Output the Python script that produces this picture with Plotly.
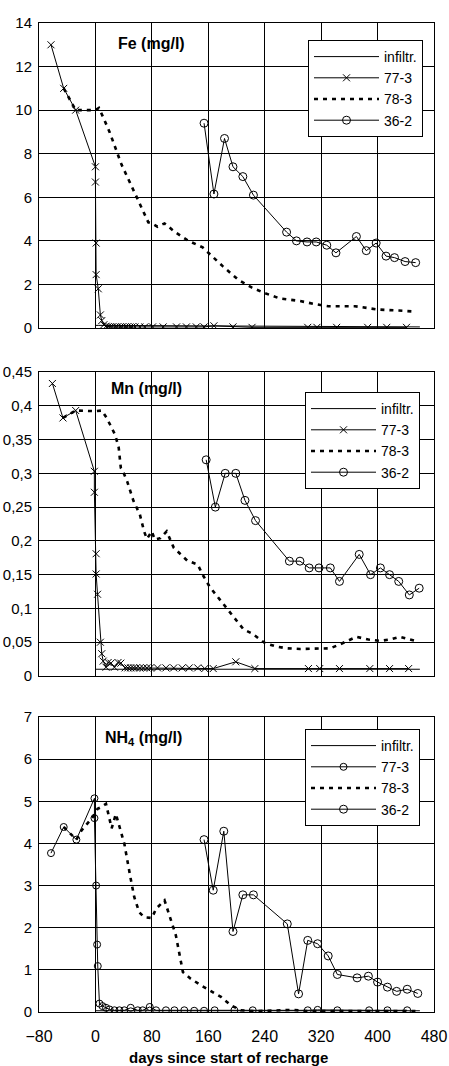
import plotly.graph_objects as go

# ---------------- data ----------------
# Fe (mg/l)
fe_infil_days = [0, 4, 460]
fe_infil = [0.12, 0.12, 0.05]
fe_773_days = [-63, -45, -28, 0, 0, 1, 1, 4, 7, 9, 12, 15, 18, 21, 24, 28, 31, 35, 38, 42,
               45, 49, 52, 56, 63, 70, 81, 96, 115, 129, 143, 154, 168, 195, 222, 301, 314, 342,
               386, 413, 441]
fe_773 = [13.0, 11.0, 10.0, 7.4, 6.7, 3.9, 2.45, 1.8, 0.6, 0.34, 0.15, 0.08, 0.06, 0.05, 0.05, 0.05,
          0.05, 0.05, 0.05, 0.05, 0.05, 0.05, 0.05, 0.05, 0.05, 0.05, 0.05, 0.05, 0.05, 0.05, 0.05,
          0.05, 0.1, 0.05, 0.03, 0.03, 0.03, 0.03, 0.03, 0.03, 0.03]
fe_783_days = [-45, -28, 0, 5, 12, 20, 28, 37, 50, 60, 70, 75, 80, 88, 98, 113, 132, 152, 180,
               203, 222, 240, 262, 288, 311, 330, 368, 400, 430, 455]
fe_783 = [11.0, 10.0, 10.0, 10.1, 9.6, 9.0, 8.3, 7.5, 6.6, 5.9, 5.2, 4.85, 4.8, 4.65, 4.8, 4.4,
          4.0, 3.7, 2.85, 2.2, 1.85, 1.6, 1.35, 1.25, 1.1, 1.0, 1.0, 0.85, 0.8, 0.75]
fe_362_days = [154, 168, 183, 195, 209, 224, 271, 285, 300, 313, 328, 341, 370, 384, 398, 412,
               424, 439, 454]
fe_362 = [9.4, 6.15, 8.7, 7.4, 6.95, 6.1, 4.4, 4.0, 3.95, 3.95, 3.8, 3.45, 4.2, 3.55, 3.9, 3.3,
          3.23, 3.05, 3.0]

# Mn (mg/l)
mn_infil_days = [0, 460]
mn_infil = [0.01, 0.01]
mn_773_days = [-61, -46, -28, -1.5, -1.5, 1, 1, 3, 7, 9, 11, 15, 18, 22, 27, 32, 36, 42, 46, 50,
               54, 58, 63, 68, 73, 78, 88, 100, 111, 123, 133, 145, 155, 167, 199, 226, 302, 318,
               346, 389, 417, 444]
mn_773 = [0.433, 0.382, 0.393, 0.303, 0.272, 0.181, 0.151, 0.121, 0.05, 0.033, 0.022, 0.013,
          0.02, 0.019, 0.013, 0.02, 0.019, 0.012, 0.012, 0.012, 0.012, 0.012, 0.012, 0.012,
          0.012, 0.012, 0.012, 0.012, 0.012, 0.012, 0.012, 0.012, 0.011, 0.011, 0.021, 0.011,
          0.011, 0.011, 0.011, 0.011, 0.011, 0.011]
mn_783_days = [-46, -28, 0, 9, 16, 28, 33, 36, 39, 45, 54, 63, 69, 73, 80, 84, 92, 101, 111, 130,
               145, 152, 162, 184, 210, 222, 240, 255, 271, 290, 309, 333, 347, 358, 370, 387,
               403, 418, 432, 446, 458]
mn_783 = [0.382, 0.393, 0.392, 0.393, 0.382, 0.357, 0.338, 0.308, 0.303, 0.288, 0.259, 0.239,
          0.214, 0.203, 0.214, 0.202, 0.204, 0.214, 0.19, 0.171, 0.165, 0.15, 0.132, 0.103,
          0.069, 0.063, 0.049, 0.044, 0.041, 0.04, 0.04, 0.041, 0.047, 0.052, 0.058, 0.054,
          0.052, 0.054, 0.058, 0.054, 0.051]
mn_362_days = [157, 170, 184, 199, 212, 227, 275, 290, 303, 317, 333, 346, 374, 390, 404, 417,
               430, 445, 459]
mn_362 = [0.32, 0.25, 0.30, 0.30, 0.26, 0.23, 0.17, 0.17, 0.16, 0.16, 0.16, 0.14, 0.18, 0.15,
          0.16, 0.15, 0.14, 0.12, 0.13]

# NH4 (mg/l)
nh_infil_days = [0, 460]
nh_infil = [0.03, 0.03]
nh_773_days = [-63, -45, -27, -1.4, -1.4, 1, 2.4, 3.3, 5.7, 10, 15, 20, 27, 34, 41, 50, 60, 67,
               77, 86, 100, 112, 126, 140, 154, 169, 197, 223, 301, 315, 343, 388, 414, 442]
nh_773 = [3.77, 4.39, 4.09, 5.07, 4.6, 3.0, 1.6, 1.09, 0.2, 0.14, 0.1, 0.06, 0.04, 0.04, 0.04,
          0.1, 0.04, 0.04, 0.12, 0.04, 0.04, 0.04, 0.04, 0.03, 0.03, 0.04, 0.04, 0.04, 0.04,
          0.05, 0.04, 0.04, 0.04, 0.04]
nh_783_days = [-45, -27, -20, -11, -4, 3, 8, 15, 23, 29, 41, 50, 55, 62, 69, 80, 86, 98, 105,
               114, 124, 135, 150, 166, 178, 192, 206, 225, 260, 280, 300, 340, 380, 420, 458]
nh_783 = [4.39, 4.09, 4.3, 4.47, 4.62, 4.82, 4.86, 4.94, 4.36, 4.7, 3.99, 3.16, 2.73, 2.37, 2.25,
          2.23, 2.45, 2.65, 2.29, 1.82, 0.95, 0.79, 0.63, 0.47, 0.36, 0.16, 0.04, 0.02, 0.04,
          0.05, 0.02, 0.02, 0.02, 0.02, 0.02]
nh_362_days = [154, 167, 182, 195, 209, 224, 272, 288, 301, 315, 330, 343, 371, 387, 400, 414,
               427, 442, 457]
nh_362 = [4.09, 2.89, 4.29, 1.91, 2.78, 2.78, 2.09, 0.43, 1.7, 1.62, 1.33, 0.89, 0.81, 0.85,
          0.71, 0.59, 0.49, 0.54, 0.44]

series_names = ["infiltr.", "77-3", "78-3", "36-2"]
panel_titles = ["<b>Fe (mg/l)</b>", "<b>Mn (mg/l)</b>", "<b>NH<sub>4</sub> (mg/l)</b>"]
x_ticks = [-80, 0, 80, 160, 240, 320, 400, 480]
x_title = "days since start of recharge"

# ---------------- layout helpers ----------------
W, H = 449, 1066
ML, MR = 39, 15
PW = W - ML - MR


def fx(p):
    return (p - ML) / PW


def fy(p):
    return 1 - p / H


FONT = "Liberation Sans, Arial, sans-serif"
panels = [
    dict(data=[(fe_infil_days, fe_infil), (fe_773_days, fe_773), (fe_783_days, fe_783),
               (fe_362_days, fe_362)],
         ymax=14, dtick=2, top=23, bot=328, sym773="x-thin-open",
         leg=dict(right=423, top=40), title=(151, 43)),
    dict(data=[(mn_infil_days, mn_infil), (mn_773_days, mn_773), (mn_783_days, mn_783),
               (mn_362_days, mn_362)],
         ymax=0.45, dtick=0.05, top=372, bot=676, sym773="x-thin-open",
         leg=dict(right=420, top=392), title=(146, 389)),
    dict(data=[(nh_infil_days, nh_infil), (nh_773_days, nh_773), (nh_783_days, nh_783),
               (nh_362_days, nh_362)],
         ymax=7, dtick=1, top=717, bot=1012, sym773="circle-open",
         leg=dict(right=420, top=729), title=(143, 738)),
]

fig = go.Figure()
annotations = []
for i, p in enumerate(panels):
    k = "" if i == 0 else str(i + 1)
    legname = "legend" + k
    styles = [
        dict(mode="lines", line=dict(color="black", width=1)),
        dict(mode="lines+markers", line=dict(color="black", width=1),
             marker=dict(symbol=p["sym773"], size=7, color="black",
                         line=dict(color="black", width=1))),
        dict(mode="lines", line=dict(color="black", width=2.6, dash="4px,5px")),
        dict(mode="lines+markers", line=dict(color="black", width=1),
             marker=dict(symbol="circle-open", size=8, color="black",
                         line=dict(color="black", width=1))),
    ]
    for (xs, ys), nm, st in zip(p["data"], series_names, styles):
        fig.add_trace(go.Scatter(x=xs, y=ys, name=nm, xaxis="x" + k, yaxis="y" + k,
                                 legend=legname, **st))
    axis_common = dict(showline=True, mirror=True, linecolor="black", linewidth=1,
                       showgrid=True, gridcolor="black", gridwidth=1, zeroline=False,
                       automargin=False, ticks="")
    fig.update_layout(**{
        "xaxis" + k: dict(domain=[0, 1], range=[-80, 480], tickvals=x_ticks,
                          showticklabels=(i == 2), anchor="y" + k, ticklabelstandoff=10,
                          tickfont=dict(family=FONT, size=16, color="black"),
                          **axis_common),
        "yaxis" + k: dict(domain=[fy(p["bot"]), fy(p["top"])], range=[0, p["ymax"]],
                          dtick=p["dtick"], tick0=0, anchor="x" + k, ticklabelstandoff=3,
                          tickfont=dict(family=FONT, size=15, color="black"),
                          **axis_common),
        legname: dict(x=fx(p["leg"]["right"]), y=fy(p["leg"]["top"]), xanchor="right",
                      yanchor="top", bgcolor="white", bordercolor="black", borderwidth=1,
                      font=dict(family=FONT, size=14, color="black"), traceorder="normal",
                      itemwidth=65),
    })
    annotations.append(dict(text=panel_titles[i], x=fx(p["title"][0]), y=fy(p["title"][1]),
                            xref="paper", yref="paper", xanchor="center", yanchor="middle",
                            showarrow=False, font=dict(family=FONT, size=16, color="black")))

annotations.append(dict(text="<b>" + x_title + "</b>", x=fx(228), y=fy(1057), xref="paper",
                        yref="paper", xanchor="center", yanchor="middle", showarrow=False,
                        font=dict(family=FONT, size=15, color="black")))

fig.update_layout(template="none", width=W, height=H,
                  margin=dict(l=ML, r=MR, t=0, b=0, autoexpand=False),
                  paper_bgcolor="white", plot_bgcolor="white", separators=", ",
                  annotations=annotations, showlegend=True)

fig.write_html("out.html")
